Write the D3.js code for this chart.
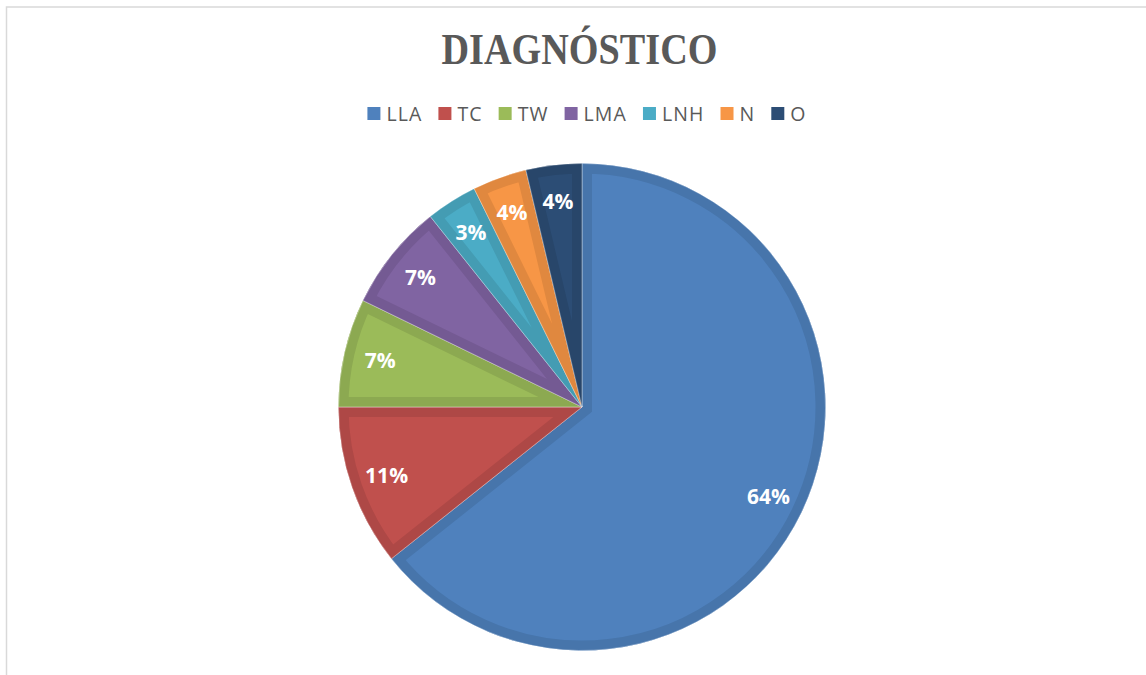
<!DOCTYPE html>
<html>
<head>
<meta charset="utf-8">
<script src="https://cdn.jsdelivr.net/npm/d3@7"></script>
<style>
  html, body { margin: 0; padding: 0; background: #ffffff; }
  svg { display: block; }
</style>
</head>
<body>
<svg id="chart" width="1146" height="675"></svg>
<script>
// ---- data ----
const title = "DIAGNÓSTICO";
const categories = ["LLA", "TC", "TW", "LMA", "LNH", "N", "O"];
const values = [64.3, 10.7, 7.2, 7.1, 3.4, 3.6, 3.7];
const colors = ["#4f81bd", "#c0504d", "#9bbb59", "#8064a2", "#4bacc6", "#f79646", "#2c4d75"];

const W = 1146, H = 675;
const svg = d3.select("#chart");

// chart frame
svg.append("rect")
  .attr("x", 6.5).attr("y", 7).attr("width", W + 20).attr("height", H + 20)
  .attr("fill", "#ffffff").attr("stroke", "#d9d9d9").attr("stroke-width", 1.5);

// title
svg.append("text")
  .attr("x", 579.5).attr("y", 63.5)
  .attr("text-anchor", "middle")
  .attr("font-family", "'Liberation Serif', 'Times New Roman', serif")
  .attr("font-weight", "bold")
  .attr("font-size", 45)
  .attr("fill", "#595959")
  .attr("textLength", 276)
  .attr("lengthAdjust", "spacingAndGlyphs")
  .text(title);

// legend
const sw = 13, swatchGap = 6, itemGap = 16;
const legend = svg.append("g");
const items = legend.selectAll("g.item").data(categories).join("g").attr("class", "item");
items.append("rect").attr("width", sw).attr("height", sw).attr("y", 107)
  .attr("fill", (d, i) => colors[i]);
items.append("text")
  .attr("y", 120.5)
  .attr("font-family", "'Open Sans', sans-serif")
  .attr("font-size", 19.5)
  .attr("letter-spacing", 1.1)
  .attr("fill", "#595959")
  .text(d => d);
let widths = [];
items.each(function () { widths.push(d3.select(this).select("text").node().getComputedTextLength()); });
const total = d3.sum(widths) + categories.length * (sw + swatchGap) + itemGap * (categories.length - 1);
let xPos = 587 - total / 2;
items.each(function (d, i) {
  const g = d3.select(this);
  g.select("rect").attr("x", xPos);
  g.select("text").attr("x", xPos + sw + swatchGap);
  xPos += sw + swatchGap + widths[i] + itemGap;
});

// pie
const cx = 582, cy = 407, R = 243.5;
const pie = d3.pie().sort(null).value(d => d.v);
const arcs = pie(categories.map((c, i) => ({ c, v: values[i], color: colors[i] })));
const arc = d3.arc().innerRadius(0).outerRadius(R);
const sum = d3.sum(values);

const g = svg.append("g").attr("transform", `translate(${cx},${cy})`);
const defs = svg.append("defs");
arcs.forEach((a, i) => {
  defs.append("clipPath").attr("id", "clip" + i).append("path").attr("d", arc(a));
});

const slices = g.selectAll("g.slice").data(arcs).join("g").attr("class", "slice");
slices.append("path")
  .attr("d", arc)
  .attr("fill", d => d.data.color);
slices.append("path")
  .attr("d", arc)
  .attr("fill", "none")
  .attr("stroke", d => d3.color(d.data.color).darker(0.28))
  .attr("stroke-width", 20)
  .attr("stroke-linejoin", "miter")
  .attr("clip-path", (d, i) => `url(#clip${i})`);
slices.append("path")
  .attr("d", arc)
  .attr("fill", "none")
  .attr("stroke", "#ffffff")
  .attr("stroke-opacity", 0.45)
  .attr("stroke-width", 0.8);

// labels
const labelR = 207;
g.selectAll("text.lbl").data(arcs).join("text")
  .attr("class", "lbl")
  .attr("transform", d => {
    const m = (d.startAngle + d.endAngle) / 2;
    return `translate(${Math.sin(m) * labelR},${-Math.cos(m) * labelR})`;
  })
  .attr("text-anchor", "middle")
  .attr("dy", "0.36em")
  .attr("font-family", "'Open Sans', sans-serif")
  .attr("font-weight", "bold")
  .attr("font-size", 21)
  .attr("fill", "#ffffff")
  .text(d => Math.round(d.data.v / sum * 100) + "%");
</script>
</body>
</html>
